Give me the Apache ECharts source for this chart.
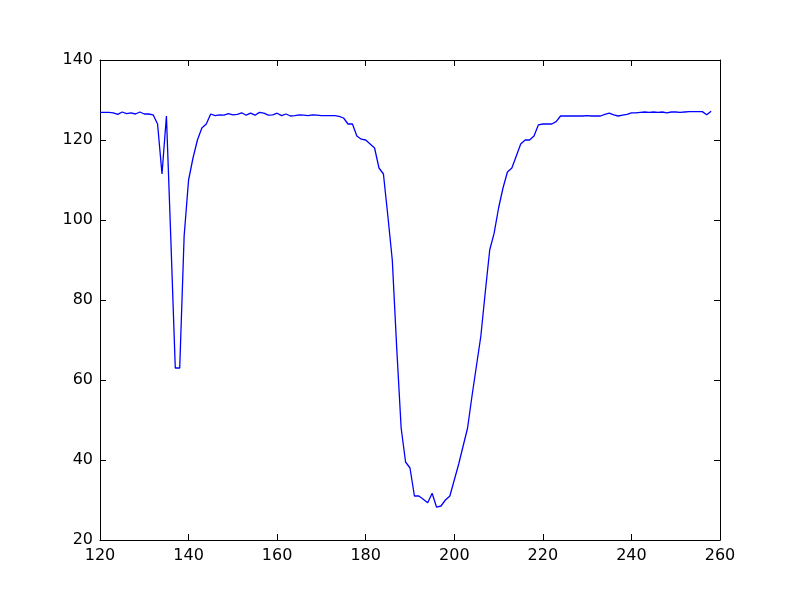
<!DOCTYPE html>
<html>
<head>
<meta charset="utf-8">
<script src="https://cdn.jsdelivr.net/npm/echarts@6/dist/echarts.min.js"></script>
<style>html,body{margin:0;padding:0;background:#fff;}#c{width:800px;height:600px;}</style>
</head>
<body>
<div id="c"></div>
<script>
var xValues = [120,121,122,123,124,125,126,127,128,129,130,131,132,133,134,135,136,137,138,139,
140,141,142,143,144,145,146,147,148,149,150,151,152,153,154,155,156,157,158,159,
160,161,162,163,164,165,166,167,168,169,170,171,172,173,174,175,176,177,178,179,
180,181,182,183,184,185,186,187,188,189,190,191,192,193,194,195,196,197,198,199,
200,201,202,203,204,205,206,207,208,209,210,211,212,213,214,215,216,217,218,219,
220,221,222,223,224,225,226,227,228,229,230,231,232,233,234,235,236,237,238,239,
240,241,242,243,244,245,246,247,248,249,250,251,252,253,254,255,256,257,258];
var yValues = [126.9,126.9,126.9,126.8,126.4,127,126.6,126.8,126.5,127,126.5,126.5,126.3,124,111.5,126,95,63,63,96,
110,115.5,120,123,124,126.5,126.1,126.3,126.2,126.6,126.3,126.4,126.8,126.2,126.7,126.2,126.9,126.7,126.2,126.3,
126.7,126.1,126.5,126,126.1,126.3,126.2,126.1,126.3,126.2,126.1,126.1,126.1,126.1,125.9,125.5,124,124,121,120.2,
120,119,118,113,111.5,101,90,68,48,39.5,38,31,31,30.2,29.3,31.7,28.2,28.5,30,31,
35,39,43.5,48,56,63.5,71,82,92.5,96.7,103,108,112,113,116,119,120,120,121,123.8,
124,124,124,124.6,126,126,126,126,126,126,126.1,126,126,126,126.4,126.7,126.3,126,126.2,126.4,
126.8,126.8,126.9,127,126.9,127,126.9,127,126.8,127,127,126.9,127,127.1,127.1,127.1,127.1,126.3,127.2];
var xTicks = {min:120, max:260, interval:20};
var yTicks = {min:20, max:140, interval:20};

var pts = xValues.map(function(x,i){return [x, yValues[i]];});
var font = {fontFamily:'DejaVu Sans', fontSize:16, color:'#000'};
var chart = echarts.init(document.getElementById('c'), null, {renderer:'canvas'});
function ax(pos, show, type){
  var t = type==='x' ? xTicks : yTicks;
  return {
    type:'value', position:pos, min:t.min, max:t.max, interval:t.interval,
    axisLine:{show:true, onZero:false, lineStyle:{color:'#000', width:1}},
    axisTick:{show:true, inside:true, length:6, lineStyle:{color:'#000', width:1}},
    axisLabel:Object.assign({show:show, margin: type==='x'?8:7}, font),
    splitLine:{show:false}
  };
}
chart.setOption({
  animation:false,
  backgroundColor:'#fff',
  grid:{left:100, right:80, top:60, bottom:60, containLabel:false},
  xAxis:[ax('bottom', true, 'x'), ax('top', false, 'x')],
  yAxis:[ax('left', true, 'y'), ax('right', false, 'y')],
  series:[{type:'line', data:pts, showSymbol:false, symbol:'none',
    lineStyle:{color:'#0000ff', width:1.3}, clip:true}]
});
</script>
</body>
</html>
